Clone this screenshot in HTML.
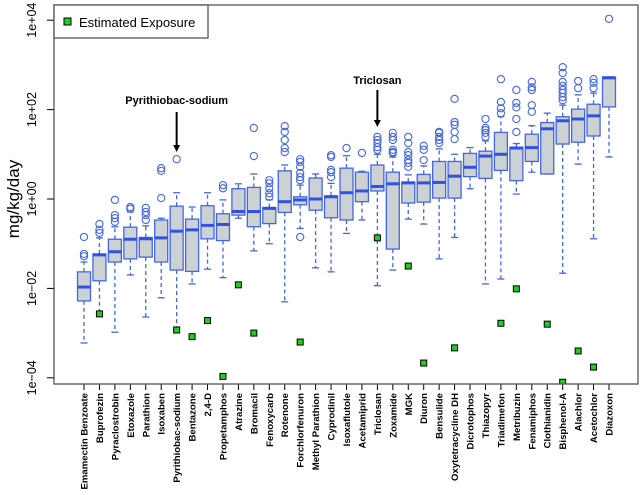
<!DOCTYPE html>
<html><head><meta charset="utf-8"><style>
html,body{margin:0;padding:0;background:#fff;}
svg{display:block;font-family:"Liberation Sans",sans-serif;}
</style></head><body>
<svg id="chart" width="640" height="495" viewBox="0 0 640 495"></svg>
<script>
const categories=["Emamectin Benzoate","Buprofezin","Pyraclostrobin","Etoxazole","Parathion","Isoxaben","Pyrithiobac-sodium","Bentazone","2,4-D","Propetamphos","Atrazine","Bromacil","Fenoxycarb","Rotenone","Forchlorfenuron","Methyl Parathion","Cyprodinil","Isoxaflutole","Acetamiprid","Triclosan","Zoxamide","MGK","Diuron","Bensulide","Oxytetracycline DH","Dicrotophos","Thiazopyr","Triadimefon","Metribuzin","Fenamiphos","Clothianidin","Bisphenol-A","Alachlor","Acetochlor","Diazoxon"];
// log10(mg/kg/day)
const whiskerLowLog=[-3.22,-2.55,-2.98,-1.7,-2.64,-2.21,-2.93,-1.9,-1.57,-1.76,-0.43,-1.16,-1.0,-2.3,-0.66,-1.54,-1.63,-0.77,-0.47,-1.94,-1.59,-0.45,-0.56,-1.34,-0.86,0.23,-1.9,-1.79,0.11,0.6,0.56,-1.66,0.78,-0.89,0.94];
const q1Log=[-2.28,-1.83,-1.41,-1.34,-1.3,-1.41,-1.59,-1.62,-0.89,-0.93,-0.36,-0.62,-0.55,-0.3,-0.13,-0.25,-0.42,-0.47,-0.06,0.18,-1.12,-0.09,-0.07,0.02,0.02,0.5,0.46,0.64,0.41,0.84,0.56,1.23,1.27,1.41,2.06];
const medianLog=[-1.97,-1.25,-1.18,-0.9,-0.89,-0.87,-0.72,-0.69,-0.59,-0.57,-0.28,-0.28,-0.21,-0.06,-0.02,0.0,0.05,0.14,0.18,0.28,0.34,0.36,0.36,0.37,0.51,0.71,0.96,1.0,1.14,1.15,1.57,1.75,1.79,1.86,2.71];
const q3Log=[-1.63,-1.23,-0.9,-0.63,-0.86,-0.47,-0.16,-0.45,-0.15,-0.33,0.23,0.26,-0.19,0.63,0.05,0.47,0.07,0.69,0.6,0.76,0.6,0.38,0.55,0.84,0.84,1.02,1.07,1.49,1.16,1.45,1.71,1.84,2.01,2.12,2.73];
const whiskerHighLog=[-1.41,-0.87,-0.62,-0.29,-0.6,-0.43,0.14,-0.18,0.14,-0.02,0.34,0.56,-0.02,0.76,0.31,0.56,0.35,0.97,0.62,1.0,0.94,0.54,0.74,1.12,1.0,1.15,1.3,1.84,1.24,1.64,1.92,2.1,2.33,2.37,2.73];
const outliersLog=[[-1.28,-1.23,-0.85],[-0.76,-0.69,-0.56],[-0.51,-0.43,-0.36,-0.02],[-0.22,-0.18],[-0.47,-0.36,-0.29,-0.2],[0.02,0.63,0.69],[0.89],[],[],[0.24,0.31],[],[0.96,1.59],[0.05,0.13,0.24,0.35,0.42],[1.05,1.14,1.32,1.5,1.63],[-0.85,0.42,0.49,0.58,0.72,0.83,0.89],[],[0.49,0.6,0.65,0.94,0.98],[1.14],[1.03],[1.1,1.16,1.25,1.32,1.39],[1.03,1.05,1.1,1.32,1.39,1.48],[0.72,0.81,0.87,0.98,1.05,1.25,1.39],[0.87,1.1,1.19],[1.25,1.32,1.39,1.48,1.5],[1.34,1.5,1.66,1.72,2.24],[],[1.39,1.48,1.54,1.59,1.79],[1.92,2.03,2.17,2.68],[1.5,1.79,2.05,2.15,2.44],[1.95,2.1,2.44,2.5,2.62],[],[2.21,2.28,2.37,2.44,2.53,2.62,2.82,2.95],[2.48,2.64],[2.48,2.6,2.68],[4.03]];
const exposureLog=[null,-2.57,null,null,null,null,-2.93,-3.08,-2.72,-3.97,-1.92,-3.0,null,null,-3.2,null,null,null,null,-0.87,null,-1.5,-3.67,null,-3.33,null,null,-2.78,-2.01,null,-2.8,-4.1,-3.4,-3.76,null];
const yTickLog=[-4,-2,0,2,4];
const yTickLabels=["1e\u221204","1e\u221202","1e+00","1e+02","1e+04"];
const annotations=[{text:"Pyrithiobac-sodium",cat:6,ty:104,y1:112,y2:152},{text:"Triclosan",cat:19,ty:84,y1:90,y2:127}];

const NS="http://www.w3.org/2000/svg";
const svg=document.getElementById('chart');
const L=54,R=638,T=5,B=384;
function yScale(v){return 199-44.7*v;}
function xScale(i){return 84+i*((609-84)/(categories.length-1));}
function mk(tag,attrs,parent){const e=document.createElementNS(NS,tag);for(const k in attrs)e.setAttribute(k,attrs[k]);(parent||svg).appendChild(e);return e;}
const BLUE="#4466e6";
const plot=mk('g',{});


const clipDef=mk('clipPath',{id:'clip'});
mk('rect',{x:L,y:T,width:R-L,height:B-T},clipDef);
plot.setAttribute('clip-path','url(#clip)');
categories.forEach((c,i)=>{
  const x=xScale(i),hw=6.5;
  const g=mk('g',{},plot);
  
  
  const yl=yScale(whiskerLowLog[i]),yq1=yScale(q1Log[i]),ym=yScale(medianLog[i]),yq3=yScale(q3Log[i]),yh=yScale(whiskerHighLog[i]);
  mk('line',{x1:x,x2:x,y1:yq1,y2:yl,stroke:BLUE,'stroke-width':1.3,'stroke-dasharray':'4,3'},g);
  mk('line',{x1:x,x2:x,y1:yq3,y2:yh,stroke:BLUE,'stroke-width':1.3,'stroke-dasharray':'4,3'},g);
  mk('line',{x1:x-3.5,x2:x+3.5,y1:yl,y2:yl,stroke:BLUE,'stroke-width':1.3},g);
  mk('line',{x1:x-3.5,x2:x+3.5,y1:yh,y2:yh,stroke:BLUE,'stroke-width':1.3},g);
  mk('rect',{x:x-hw,y:Math.min(yq1,yq3),width:2*hw,height:Math.max(1,Math.abs(yq1-yq3)),fill:'#ccd2d3',stroke:BLUE,'stroke-width':1.3},g);
  mk('line',{x1:x-hw,x2:x+hw,y1:ym,y2:ym,stroke:'#2f52e0','stroke-width':3},g);
  outliersLog[i].forEach(o=>{
    const ci=mk('circle',{cx:x,cy:yScale(o),r:3.6,fill:'none',stroke:BLUE,'stroke-width':1.1},g);
    
    
  });
  if(exposureLog[i]!==null){
    const ey=yScale(exposureLog[i]);
    const r=mk('rect',{x:x-3,y:ey-3,width:6,height:6,fill:'#22cc22',stroke:'#000','stroke-width':1},g);
    
    
  }
  const tk=mk('line',{x1:x,x2:x,y1:B,y2:B+6,stroke:'#000','stroke-width':1});
  
  
  const t=mk('text',{x:0,y:0,transform:`translate(${x+3.5},393) rotate(-90)`,'text-anchor':'end','font-size':'9.6px','font-weight':'bold',fill:'#000'});
  t.textContent=c;
  
  
});
const frame=mk('rect',{x:L,y:T,width:R-L,height:B-T,fill:'none',stroke:'#555','stroke-width':1.3});


yTickLog.forEach((v,i)=>{
  const y=yScale(v);
  const tk=mk('line',{x1:L-7,x2:L,y1:y,y2:y,stroke:'#000','stroke-width':1});
  
  
  const t=mk('text',{x:0,y:0,transform:`translate(36,${y}) rotate(-90)`,'text-anchor':'middle','font-size':'12.5px',fill:'#000'});
  t.textContent=yTickLabels[i];
  
  
});
const yt=mk('text',{x:0,y:0,transform:'translate(19,199) rotate(-90)','text-anchor':'middle','font-size':'17px',fill:'#000'});
yt.textContent='mg/kg/day';


annotations.forEach(a=>{
  const x=xScale(a.cat);
  const t=mk('text',{x:x,y:a.ty,'text-anchor':'middle','font-size':'11px','font-weight':'bold',fill:'#000'});
  t.textContent=a.text;
  
  
  const l=mk('line',{x1:x,x2:x,y1:a.y1,y2:a.y2-5,stroke:'#000','stroke-width':2});
  
  
  mk('path',{d:`M${x-3.5},${a.y2-7} L${x+3.5},${a.y2-7} L${x},${a.y2} Z`,fill:'#000'});
});
const lg=mk('g',{});


mk('rect',{x:L,y:T,width:154,height:33,fill:'#fff',stroke:'#555','stroke-width':1.3},lg);
mk('rect',{x:64,y:18,width:7,height:7,fill:'#22cc22',stroke:'#000','stroke-width':1},lg);
const lt=mk('text',{x:79,y:27,'font-size':'13px',fill:'#000'},lg);
lt.textContent='Estimated Exposure';


</script>
</body></html>
